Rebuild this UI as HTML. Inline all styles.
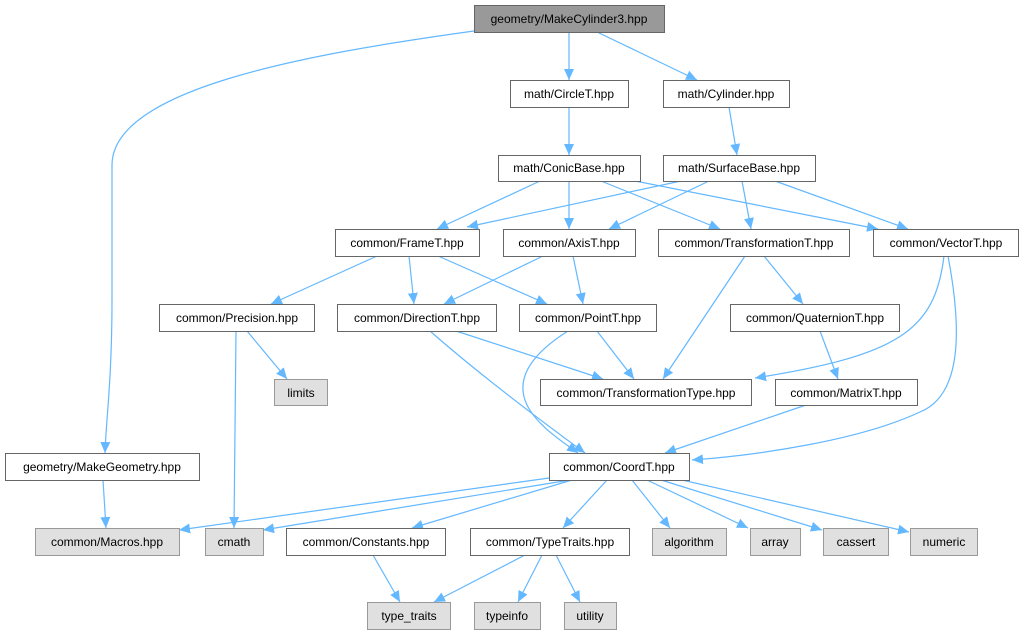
<!DOCTYPE html>
<html><head><meta charset="utf-8"><style>
html,body{margin:0;padding:0;background:#fff;}
svg{display:block;}
text{font-family:"Liberation Sans",Arial,sans-serif;font-size:12px;fill:#000;}
</style></head><body>
<svg width="1028" height="635" viewBox="0 0 1028 635" xmlns="http://www.w3.org/2000/svg">
<defs>
<marker id="a" markerUnits="userSpaceOnUse" markerWidth="12" markerHeight="10" refX="11" refY="5" orient="auto">
<path d="M0,0 L11,5 L0,10 Z" fill="#63b8ff"/>
</marker>
</defs>
<g fill="none" stroke="#63b8ff" stroke-width="1.2" marker-end="url(#a)">
<path d="M474,31 C300,55 112,90 112,165 L112,300 C112,380 106,420 105,453"/>
<path d="M569,32 L569,80"/>
<path d="M597,32 L697,80"/>
<path d="M569,107 L569,155"/>
<path d="M729,107 L737,155"/>
<path d="M540,181 L437,229"/>
<path d="M569,181 L569,229"/>
<path d="M601,181 L720,229"/>
<path d="M635,181 L878,229"/>
<path d="M681,181 L467,227"/>
<path d="M709,181 L609,229"/>
<path d="M742,181 L751,229"/>
<path d="M775,181 L908,229"/>
<path d="M377,256 L271,304"/>
<path d="M409,256 L414,304"/>
<path d="M438,256 L547,304"/>
<path d="M543,256 L444,304"/>
<path d="M573,256 L583,304"/>
<path d="M745,256 L663,379"/>
<path d="M764,256 L803,304"/>
<path d="M944,256 C935,330 900,355 755,378"/>
<path d="M948,256 C962,330 962,395 920,412 C860,440 760,455 692,460"/>
<path d="M236,331 L234,528"/>
<path d="M247,331 L287,379"/>
<path d="M456,331 L603,379"/>
<path d="M430,331 C480,375 540,420 585,453"/>
<path d="M597,331 L634,379"/>
<path d="M568,331 C530,355 515,380 527,405 C537,425 560,440 578,453"/>
<path d="M820,331 L838,379"/>
<path d="M806,405 L665,453"/>
<path d="M103,480 L106,528"/>
<path d="M549,478 L179,530"/>
<path d="M570,480 L263,530"/>
<path d="M572,480 L412,528"/>
<path d="M607,480 L563,528"/>
<path d="M632,480 L670,528"/>
<path d="M647,480 L748,528"/>
<path d="M661,480 L822,530"/>
<path d="M682,480 L909,532"/>
<path d="M373,555 L400,602"/>
<path d="M525,555 L434,602"/>
<path d="M542,555 L518,602"/>
<path d="M556,555 L580,602"/>
</g>
<g stroke="#666" stroke-width="1">
<rect x="474.5" y="5.5" width="190" height="27" fill="#999"/>
<rect x="510.5" y="80.5" width="118" height="27" fill="#fff"/>
<rect x="663.5" y="80.5" width="126" height="27" fill="#fff"/>
<rect x="498.5" y="155.5" width="142" height="26" fill="#fff"/>
<rect x="663.5" y="155.5" width="152" height="26" fill="#fff"/>
<rect x="335.5" y="229.5" width="144" height="27" fill="#fff"/>
<rect x="503.5" y="229.5" width="132" height="27" fill="#fff"/>
<rect x="658.5" y="229.5" width="191" height="27" fill="#fff"/>
<rect x="873.5" y="229.5" width="145" height="27" fill="#fff"/>
<rect x="159.5" y="304.5" width="155" height="27" fill="#fff"/>
<rect x="337.5" y="304.5" width="159" height="27" fill="#fff"/>
<rect x="519.5" y="304.5" width="137" height="27" fill="#fff"/>
<rect x="730.5" y="304.5" width="169" height="27" fill="#fff"/>
<rect x="540.5" y="379.5" width="211" height="26" fill="#fff"/>
<rect x="775.5" y="379.5" width="142" height="26" fill="#fff"/>
<rect x="5.5" y="453.5" width="194" height="27" fill="#fff"/>
<rect x="549.5" y="453.5" width="140" height="27" fill="#fff"/>
<rect x="286.5" y="528.5" width="159" height="27" fill="#fff"/>
<rect x="470.5" y="528.5" width="159" height="27" fill="#fff"/>
</g>
<g stroke="#999" stroke-width="1" fill="#e0e0e0">
<rect x="274.5" y="379.5" width="53" height="26"/>
<rect x="35.5" y="528.5" width="144" height="27"/>
<rect x="205.5" y="528.5" width="58" height="27"/>
<rect x="652.5" y="528.5" width="74" height="27"/>
<rect x="750.5" y="528.5" width="50" height="27"/>
<rect x="823.5" y="528.5" width="65" height="27"/>
<rect x="910.5" y="528.5" width="67" height="27"/>
<rect x="367.5" y="602.5" width="83" height="27"/>
<rect x="474.5" y="602.5" width="66" height="27"/>
<rect x="564.5" y="602.5" width="52" height="27"/>
</g>
<g text-anchor="middle">
<text x="569" y="23">geometry/MakeCylinder3.hpp</text>
<text x="569" y="98">math/CircleT.hpp</text>
<text x="726" y="98">math/Cylinder.hpp</text>
<text x="569" y="172">math/ConicBase.hpp</text>
<text x="739" y="172">math/SurfaceBase.hpp</text>
<text x="407" y="247">common/FrameT.hpp</text>
<text x="569" y="247">common/AxisT.hpp</text>
<text x="754" y="247">common/TransformationT.hpp</text>
<text x="946" y="247">common/VectorT.hpp</text>
<text x="237" y="322">common/Precision.hpp</text>
<text x="417" y="322">common/DirectionT.hpp</text>
<text x="588" y="322">common/PointT.hpp</text>
<text x="815" y="322">common/QuaternionT.hpp</text>
<text x="301" y="397">limits</text>
<text x="646" y="397">common/TransformationType.hpp</text>
<text x="846" y="397">common/MatrixT.hpp</text>
<text x="102" y="471">geometry/MakeGeometry.hpp</text>
<text x="619" y="471">common/CoordT.hpp</text>
<text x="107" y="546">common/Macros.hpp</text>
<text x="234" y="546">cmath</text>
<text x="366" y="546">common/Constants.hpp</text>
<text x="550" y="546">common/TypeTraits.hpp</text>
<text x="689" y="546">algorithm</text>
<text x="775" y="546">array</text>
<text x="856" y="546">cassert</text>
<text x="944" y="546">numeric</text>
<text x="409" y="620">type_traits</text>
<text x="507" y="620">typeinfo</text>
<text x="590" y="620">utility</text>
</g>
</svg>
</body></html>
